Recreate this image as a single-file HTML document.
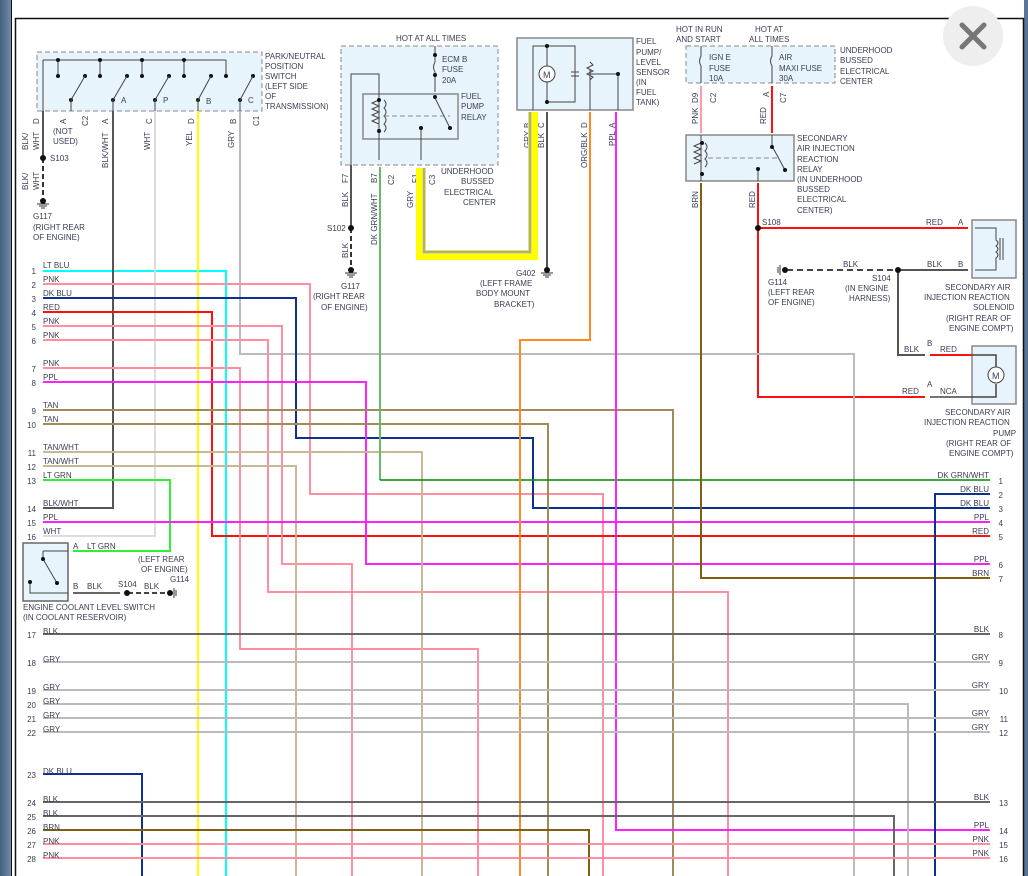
<!DOCTYPE html>
<html><head><meta charset="utf-8"><style>
html,body{margin:0;padding:0;background:#fff;}
svg{display:block;font-family:"Liberation Sans",sans-serif;}
text{font-size:8px;fill:#3a3d55;}
.w{fill:none;stroke-width:2;}
</style></head><body>
<svg width="1028" height="876" viewBox="0 0 1028 876" xmlns="http://www.w3.org/2000/svg">
<rect width="1028" height="876" fill="#fff"/>
<defs><linearGradient id="sl" x1="0" x2="1"><stop offset="0" stop-color="#45607e"/><stop offset="1" stop-color="#6f8bab"/></linearGradient></defs>
<rect x="0" y="0" width="11" height="876" fill="url(#sl)"/>
<line x1="11.5" y1="0" x2="11.5" y2="876" stroke="#111"/>
<rect x="1024" y="0" width="4" height="876" fill="#5a7595"/>
<path d="M15.5 876 V18.5 H1023.5 V876" fill="none" stroke="#111" stroke-width="1.5"/>

<circle cx="973" cy="36" r="30" fill="#eeeeee"/>
<path d="M962 25 L984 47 M984 25 L962 47" stroke="#777" stroke-width="5" stroke-linecap="round"/>

<rect x="37" y="52" width="225" height="59" fill="#e8f4fc" stroke="#888" stroke-dasharray="5,3"/>
<path d="M43 60 H226 M58 60 V76 M100 60 V76 M142 60 V76 M184 60 V76 M226 60 V76 M43 60 V111" stroke="#444" fill="none"/>
<g fill="#111"><circle cx="58" cy="60" r="2"/><circle cx="100" cy="60" r="2"/><circle cx="142" cy="60" r="2"/><circle cx="184" cy="60" r="2"/>
<circle cx="58" cy="76" r="2"/><circle cx="100" cy="76" r="2"/><circle cx="142" cy="76" r="2"/><circle cx="184" cy="76" r="2"/><circle cx="226" cy="76" r="2"/>
<circle cx="85" cy="76" r="2"/><circle cx="127" cy="76" r="2"/><circle cx="169" cy="76" r="2"/><circle cx="211" cy="76" r="2"/><circle cx="253" cy="76" r="2"/>
<circle cx="71" cy="100" r="2"/><circle cx="113" cy="100" r="2"/><circle cx="155" cy="100" r="2"/><circle cx="198" cy="100" r="2"/><circle cx="240" cy="100" r="2"/></g>
<path d="M71 100 L85 76 M113 100 L127 76 M155 100 L169 76 M198 100 L211 76 M240 100 L253 76 M71 100V111 M113 100V111 M155 100V111 M198 100V111 M240 100V111" stroke="#444"/>
<text x="121" y="103">A</text><text x="163" y="103">P</text><text x="206" y="104">B</text><text x="248" y="103">C</text>
<text x="265" y="59">PARK/NEUTRAL</text><text x="265" y="69">POSITION</text><text x="265" y="79">SWITCH</text><text x="265" y="89">(LEFT SIDE</text><text x="265" y="99">OF</text><text x="265" y="109">TRANSMISSION)</text>
<g transform="rotate(-90)">
<text x="-124" y="39">D</text><text x="-124" y="66">A</text><text x="-126" y="88">C2</text><text x="-124" y="108">A</text><text x="-124" y="152">C</text><text x="-124" y="194">D</text><text x="-124" y="236">B</text><text x="-126" y="259">C1</text>
<text x="-150" y="28">BLK/</text><text x="-150" y="39">WHT</text>
<text x="-190" y="28">BLK/</text><text x="-190" y="39">WHT</text>
<text x="-168" y="108">BLK/WHT</text><text x="-150" y="150">WHT</text><text x="-146" y="192">YEL</text><text x="-148" y="234">GRY</text>
</g>
<text x="53" y="134">(NOT</text><text x="53" y="144">USED)</text>
<text x="50" y="161">S103</text>
<text x="33" y="219">G117</text><text x="33" y="230">(RIGHT REAR</text><text x="33" y="240">OF ENGINE)</text>
<line x1="43" y1="111" x2="43" y2="158" stroke="#555" stroke-width="2"/>
<line x1="43" y1="158" x2="43" y2="198" stroke="#333" stroke-width="2" stroke-dasharray="5,3"/>
<circle cx="43" cy="158" r="3" fill="#111"/>
<circle cx="43" cy="201" r="3" fill="#111"/><path d="M37 204H49M39 206H47M41 208H45" stroke="#333"/>

<text x="396" y="41">HOT AT ALL TIMES</text>
<rect x="341" y="46" width="157" height="119" fill="#e8f4fc" stroke="#888" stroke-dasharray="5,3"/>
<rect x="363" y="94" width="95" height="45" fill="none" stroke="#888" stroke-width="1.5"/>
<path d="M351 165V74H379V92 M379 92V160 M435 46V62 M435 72V92 M435 98L450 128 M421 128V160" stroke="#444" fill="none"/>
<path d="M435 62 q-3 5 0 10" stroke="#444" fill="none"/>
<path d="M379 100 l-7 3 l7 3 l-7 3 l7 3 l-7 3 l7 3 l-7 3 l7 3" stroke="#444" fill="none"/>
<path d="M384 100 q4 4 0 8 q4 4 0 8 q4 4 0 8 q4 4 0 8" stroke="#444" fill="none"/>
<line x1="384" y1="116" x2="450" y2="116" stroke="#888" stroke-dasharray="5,3"/>
<g fill="#111"><circle cx="435" cy="55" r="2"/><circle cx="435" cy="75" r="2"/><circle cx="379" cy="100" r="2"/><circle cx="379" cy="131" r="2"/><circle cx="435" cy="97" r="2"/><circle cx="450" cy="128" r="2"/><circle cx="421" cy="128" r="2"/></g>
<text x="442" y="62">ECM B</text><text x="442" y="72">FUSE</text><text x="442" y="83">20A</text>
<text x="461" y="99">FUEL</text><text x="461" y="109">PUMP</text><text x="461" y="120">RELAY</text>
<text x="441" y="174">UNDERHOOD</text><text x="461" y="184">BUSSED</text><text x="444" y="195">ELECTRICAL</text><text x="463" y="205">CENTER</text>
<g transform="rotate(-90)">
<text x="-183" y="348">F7</text><text x="-183" y="377">B7</text><text x="-185" y="394">C2</text><text x="-183" y="418">F1</text><text x="-185" y="435">C3</text>
<text x="-207" y="348">BLK</text><text x="-245" y="377">DK GRN/WHT</text><text x="-208" y="413">GRY</text><text x="-258" y="348">BLK</text>
</g>
<line x1="351" y1="165" x2="351" y2="228" stroke="#555" stroke-width="2"/>
<line x1="351" y1="228" x2="351" y2="268" stroke="#333" stroke-width="2" stroke-dasharray="5,3"/>
<circle cx="351" cy="228" r="3" fill="#111"/><text x="327" y="231">S102</text>
<circle cx="351" cy="270" r="3" fill="#111"/><path d="M345 273H357M347 275H355M349 277H353" stroke="#333"/>
<text x="341" y="289">G117</text><text x="313" y="299">(RIGHT REAR</text><text x="321" y="310">OF ENGINE)</text>

<rect x="517" y="38" width="116" height="72" fill="#e8f4fc" stroke="#888" stroke-width="1.5"/>
<path d="M533 110V46H575V102H547V46 M590 110V70 M590 74H618V110 M575 68V80" stroke="#444" fill="none"/>
<circle cx="547" cy="74" r="8" fill="#fff" stroke="#444"/><text x="543" y="78" style="font-size:9px">M</text>
<path d="M571 72H579 M571 76H579" stroke="#444"/>
<path d="M590 62 l3 3 l-6 3 l6 3 l-6 3 l6 3 l-3 3" stroke="#444" fill="none"/>
<g fill="#111"><circle cx="547" cy="46" r="2"/><circle cx="547" cy="102" r="2"/><circle cx="618" cy="74" r="2"/></g>
<text x="636" y="44">FUEL</text><text x="636" y="55">PUMP/</text><text x="636" y="65">LEVEL</text><text x="636" y="75">SENSOR</text><text x="636" y="85">(IN</text><text x="636" y="95">FUEL</text><text x="636" y="105">TANK)</text>
<g transform="rotate(-90)">
<text x="-128" y="530">B</text><text x="-128" y="544">C</text><text x="-128" y="587">D</text><text x="-128" y="615">A</text>
<text x="-148" y="530">GRY</text><text x="-148" y="544">BLK</text><text x="-168" y="587">ORG/BLK</text><text x="-146" y="615">PPL</text>
</g>
<line x1="547" y1="112" x2="547" y2="268" stroke="#555" stroke-width="2"/>
<circle cx="547" cy="270" r="3" fill="#111"/><path d="M541 273H553M543 275H551M545 277H549" stroke="#333"/>
<text x="516" y="276">G402</text><text x="480" y="286">(LEFT FRAME</text><text x="476" y="296">BODY MOUNT</text><text x="494" y="307">BRACKET)</text>
<path d="M421 168V255H533V112" fill="none" stroke="#ffff00" stroke-width="10"/>
<path d="M424 168V252H530V112" fill="none" stroke="#aaa" stroke-width="2.5"/>

<text x="676" y="32">HOT IN RUN</text><text x="676" y="42">AND START</text><text x="755" y="32">HOT AT</text><text x="749" y="42">ALL TIMES</text>
<rect x="686" y="46" width="149" height="37" fill="#e8f4fc" stroke="#888" stroke-dasharray="5,3"/>
<path d="M701 46V56 q-3 5 0 10 V83 M772 46V56 q-3 5 0 10 V83" stroke="#444" fill="none"/>
<text x="709" y="60">IGN E</text><text x="709" y="71">FUSE</text><text x="709" y="81">10A</text>
<text x="779" y="60">AIR</text><text x="779" y="71">MAXI FUSE</text><text x="779" y="81">30A</text>
<text x="840" y="53">UNDERHOOD</text><text x="840" y="63">BUSSED</text><text x="840" y="74">ELECTRICAL</text><text x="840" y="84">CENTER</text>
<line x1="701" y1="86" x2="701" y2="133" stroke="#ff9aaa" stroke-width="2"/>
<line x1="772" y1="86" x2="772" y2="133" stroke="#ff1010" stroke-width="2"/>
<g transform="rotate(-90)">
<text x="-103" y="698">D9</text><text x="-103" y="716">C2</text><text x="-97" y="769">A</text><text x="-103" y="786">C7</text>
<text x="-124" y="698">PNK</text><text x="-124" y="766">RED</text><text x="-208" y="698">BRN</text><text x="-208" y="755">RED</text>
</g>
<rect x="686" y="135" width="108" height="46" fill="#e8f4fc" stroke="#888" stroke-width="1.5"/>
<path d="M701 135V181 M772 135V146 L785 170 M758 181V169" stroke="#444" fill="none"/>
<path d="M701 143 l-7 3 l7 3 l-7 3 l7 3 l-7 3 l7 3 l-7 3" stroke="#444" fill="none"/>
<path d="M705 143 q4 4 0 8 q4 4 0 8 q4 4 0 8" stroke="#444" fill="none"/>
<line x1="708" y1="158" x2="778" y2="158" stroke="#888" stroke-dasharray="5,3"/>
<g fill="#111"><circle cx="702" cy="143" r="2"/><circle cx="702" cy="174" r="2"/><circle cx="772" cy="147" r="2"/><circle cx="785" cy="170" r="2"/><circle cx="758" cy="169" r="2"/></g>
<text x="797" y="141">SECONDARY</text><text x="797" y="151">AIR INJECTION</text><text x="797" y="162">REACTION</text><text x="797" y="172">RELAY</text><text x="797" y="182">(IN UNDERHOOD</text><text x="797" y="192">BUSSED</text><text x="797" y="202">ELECTRICAL</text><text x="797" y="213">CENTER)</text>
<path class="w" d="M758 183V397H925" stroke="#ff1010"/>
<path class="w" d="M758 228H968" stroke="#ff1010"/>
<circle cx="758" cy="228" r="3" fill="#111"/><text x="762" y="225">S108</text>
<text x="926" y="225">RED</text><text x="958" y="225">A</text>
<rect x="972" y="220" width="44" height="58" fill="#e8f4fc" stroke="#888" stroke-width="1.5"/>
<path d="M975 228H996V240 q4 3 0 6 q4 3 0 6 q4 3 0 6 V270H975 M1000 238V260 M1003 238V260" stroke="#444" fill="none"/>
<line x1="787" y1="270" x2="898" y2="270" stroke="#444" stroke-width="2" stroke-dasharray="6,4"/>
<circle cx="785" cy="270" r="3" fill="#111"/><path d="M780 265V275M778 267V273" stroke="#333"/>
<path class="w" d="M898 270H968 M898 270V355H925" stroke="#555"/>
<circle cx="898" cy="270" r="3" fill="#111"/>
<text x="843" y="267">BLK</text><text x="927" y="267">BLK</text><text x="958" y="267">B</text>
<text x="768" y="285">G114</text><text x="768" y="295">(LEFT REAR</text><text x="768" y="305">OF ENGINE)</text>
<text x="872" y="281">S104</text><text x="845" y="291">(IN ENGINE</text><text x="849" y="301">HARNESS)</text>
<text x="945" y="290">SECONDARY AIR</text><text x="924" y="300">INJECTION REACTION</text><text x="973" y="310">SOLENOID</text><text x="946" y="321">(RIGHT REAR OF</text><text x="949" y="331">ENGINE COMPT)</text>
<rect x="972" y="346" width="44" height="58" fill="#e8f4fc" stroke="#888" stroke-width="1.5"/>
<path class="w" d="M930 355H972" stroke="#ff1010"/>
<path d="M930 397H972 M972 397H996V384 M972 355H996V368" stroke="#444" fill="none" stroke-width="1.5"/>
<circle cx="996" cy="375" r="8" fill="#fff" stroke="#444"/><text x="992" y="379" style="font-size:9px">M</text>
<text x="904" y="352">BLK</text><text x="927" y="346">B</text><text x="940" y="352">RED</text>
<text x="902" y="394">RED</text><text x="927" y="387">A</text><text x="940" y="394">NCA</text>
<text x="945" y="415">SECONDARY AIR</text><text x="924" y="425">INJECTION REACTION</text><text x="993" y="436">PUMP</text><text x="946" y="446">(RIGHT REAR OF</text><text x="949" y="456">ENGINE COMPT)</text>

<g class="w">
<path d="M43 271H226V876" stroke="#00ffff"/>
<path d="M198 111V876" stroke="#ffff00"/>
<path d="M240 111V354H854V876" stroke="#bbb"/>
<path d="M113 111V508H43" stroke="#555"/>
<path d="M155 111V536H43" stroke="#ddd"/>
<path d="M43 284H310V494H603V876" stroke="#ff8fa0"/>
<path d="M43 298H296V438H533V508H990" stroke="#103090"/>
<path d="M43 312H212V536H990" stroke="#ff1010"/>
<path d="M43 326H282V564H352V876" stroke="#ff8fa0"/>
<path d="M43 340H268V592H728V876" stroke="#ff8fa0"/>
<path d="M43 368H240V649H478V876" stroke="#ff8fa0"/>
<path d="M43 382H366V564H990" stroke="#ff22ff"/>
<path d="M43 410H673V876" stroke="#a08c5a"/>
<path d="M43 424H548V876" stroke="#a08c5a"/>
<path d="M43 452H422V876" stroke="#c8b898"/>
<path d="M43 466H296V876" stroke="#c8b898"/>
<path d="M43 480H170V551H73" stroke="#33ee33"/>
<path d="M43 522H990" stroke="#ff22ff"/>
<path d="M380 167V480" stroke="#66bb66"/>
<path d="M380 480H990" stroke="#008800" stroke-width="1.5"/>
<path d="M590 112V340H520V876" stroke="#ff8822"/>
<path d="M616 112V830H990" stroke="#ff22ff"/>
<path d="M701 183V578H990" stroke="#806010"/>
<path d="M935 876V494H990" stroke="#103090"/>
<path d="M43 634H990" stroke="#666"/>
<path d="M43 662H990" stroke="#bbb"/>
<path d="M43 690H990" stroke="#bbb"/>
<path d="M43 704H908V876" stroke="#bbb"/>
<path d="M43 718H990" stroke="#bbb"/>
<path d="M43 732H990" stroke="#bbb"/>
<path d="M43 774H142V876" stroke="#103090"/>
<path d="M43 802H990" stroke="#666"/>
<path d="M43 816H894V876" stroke="#666"/>
<path d="M43 830H589V876" stroke="#806010"/>
<path d="M43 844H990" stroke="#ff8fa0"/>
<path d="M43 858H990" stroke="#ff8fa0"/>
</g>

<rect x="23" y="543" width="45" height="58" fill="#e8f4fc" stroke="#666" stroke-width="1.5"/>
<path d="M43 551V560 M43 551H68 M30 582V593H68 M43 559L57 583" stroke="#444" fill="none"/>
<g fill="#111"><circle cx="43" cy="559" r="2"/><circle cx="57" cy="583" r="2"/><circle cx="30" cy="582" r="2"/></g>
<path class="w" d="M73 593H120" stroke="#666"/>
<line x1="128" y1="593" x2="168" y2="593" stroke="#444" stroke-width="2" stroke-dasharray="5,3"/>
<circle cx="127" cy="593" r="3" fill="#111"/><circle cx="170" cy="593" r="3" fill="#111"/><path d="M174 588V598M176 590V596" stroke="#333"/>
<text x="73" y="549">A</text><text x="87" y="549">LT GRN</text>
<text x="73" y="589">B</text><text x="87" y="589">BLK</text><text x="118" y="587">S104</text><text x="144" y="589">BLK</text>
<text x="138" y="562">(LEFT REAR</text><text x="141" y="572">OF ENGINE)</text><text x="170" y="582">G114</text>
<text x="23" y="610">ENGINE COOLANT LEVEL SWITCH</text><text x="23" y="620">(IN COOLANT RESERVOIR)</text>

<g>
<text x="43" y="268">LT BLU</text><text x="36" y="274" text-anchor="end">1</text>
<text x="43" y="282">PNK</text><text x="36" y="288" text-anchor="end">2</text>
<text x="43" y="296">DK BLU</text><text x="36" y="302" text-anchor="end">3</text>
<text x="43" y="310">RED</text><text x="36" y="316" text-anchor="end">4</text>
<text x="43" y="324">PNK</text><text x="36" y="330" text-anchor="end">5</text>
<text x="43" y="338">PNK</text><text x="36" y="344" text-anchor="end">6</text>
<text x="43" y="366">PNK</text><text x="36" y="372" text-anchor="end">7</text>
<text x="43" y="380">PPL</text><text x="36" y="386" text-anchor="end">8</text>
<text x="43" y="408">TAN</text><text x="36" y="414" text-anchor="end">9</text>
<text x="43" y="422">TAN</text><text x="36" y="428" text-anchor="end">10</text>
<text x="43" y="450">TAN/WHT</text><text x="36" y="456" text-anchor="end">11</text>
<text x="43" y="464">TAN/WHT</text><text x="36" y="470" text-anchor="end">12</text>
<text x="43" y="478">LT GRN</text><text x="36" y="484" text-anchor="end">13</text>
<text x="43" y="506">BLK/WHT</text><text x="36" y="512" text-anchor="end">14</text>
<text x="43" y="520">PPL</text><text x="36" y="526" text-anchor="end">15</text>
<text x="43" y="534">WHT</text><text x="36" y="540" text-anchor="end">16</text>
<text x="43" y="634">BLK</text><text x="36" y="638" text-anchor="end">17</text>
<text x="43" y="662">GRY</text><text x="36" y="666" text-anchor="end">18</text>
<text x="43" y="690">GRY</text><text x="36" y="694" text-anchor="end">19</text>
<text x="43" y="704">GRY</text><text x="36" y="708" text-anchor="end">20</text>
<text x="43" y="718">GRY</text><text x="36" y="722" text-anchor="end">21</text>
<text x="43" y="732">GRY</text><text x="36" y="736" text-anchor="end">22</text>
<text x="43" y="774">DK BLU</text><text x="36" y="778" text-anchor="end">23</text>
<text x="43" y="802">BLK</text><text x="36" y="806" text-anchor="end">24</text>
<text x="43" y="816">BLK</text><text x="36" y="820" text-anchor="end">25</text>
<text x="43" y="830">BRN</text><text x="36" y="834" text-anchor="end">26</text>
<text x="43" y="844">PNK</text><text x="36" y="848" text-anchor="end">27</text>
<text x="43" y="858">PNK</text><text x="36" y="862" text-anchor="end">28</text>
</g>
<g text-anchor="end">
<text x="989" y="478">DK GRN/WHT</text><text x="1003" y="484">1</text>
<text x="989" y="492">DK BLU</text><text x="1003" y="498">2</text>
<text x="989" y="506">DK BLU</text><text x="1003" y="512">3</text>
<text x="989" y="520">PPL</text><text x="1003" y="526">4</text>
<text x="989" y="534">RED</text><text x="1003" y="540">5</text>
<text x="989" y="562">PPL</text><text x="1003" y="568">6</text>
<text x="989" y="576">BRN</text><text x="1003" y="582">7</text>
<text x="989" y="632">BLK</text><text x="1003" y="638">8</text>
<text x="989" y="660">GRY</text><text x="1003" y="666">9</text>
<text x="989" y="688">GRY</text><text x="1008" y="694">10</text>
<text x="989" y="716">GRY</text><text x="1008" y="722">11</text>
<text x="989" y="730">GRY</text><text x="1008" y="736">12</text>
<text x="989" y="800">BLK</text><text x="1008" y="806">13</text>
<text x="989" y="828">PPL</text><text x="1008" y="834">14</text>
<text x="989" y="842">PNK</text><text x="1008" y="848">15</text>
<text x="989" y="856">PNK</text><text x="1008" y="862">16</text>
</g>
</svg>
</body></html>
